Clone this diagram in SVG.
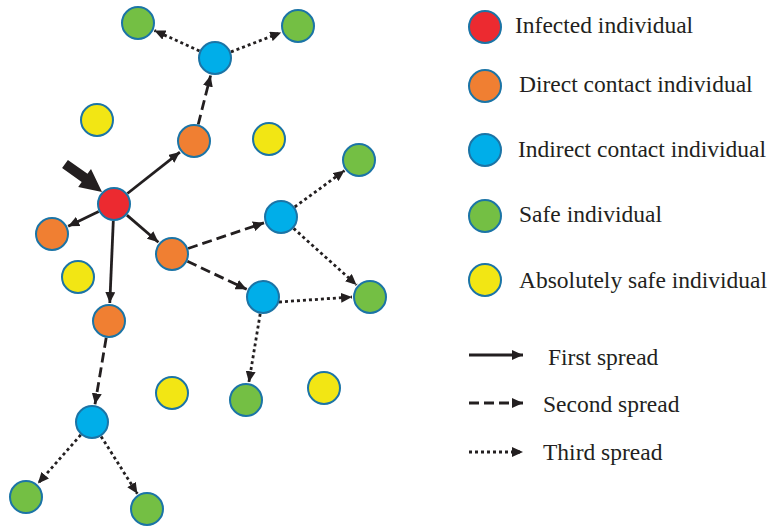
<svg xmlns="http://www.w3.org/2000/svg" width="778" height="526" viewBox="0 0 778 526">
<style>
.n{stroke:#1b74a6;stroke-width:2}
.inf{fill:#ec2a30}.dir{fill:#f07f32}.ind{fill:#00aee9}.safe{fill:#74bf44}.abs{fill:#f2e614}
.e{stroke:#231f20;stroke-width:2.8;fill:none;marker-end:url(#ah)}
.d2{stroke-dasharray:10 5}
.d3{stroke-dasharray:3 3}
text{font-family:"Liberation Serif","Times New Roman",serif;font-size:23.5px;fill:#231f20}
</style>
<defs>
<marker id="ah" markerUnits="userSpaceOnUse" markerWidth="12" markerHeight="10" refX="11" refY="5" orient="auto">
<path d="M0,0 L11,5 L0,10 Z" fill="#231f20"/>
</marker>
</defs>
<rect width="778" height="526" fill="#fff"/>
<g id="connectors">
<line class="e" x1="127.4" y1="193.5" x2="179.9" y2="152.1"/>
<line class="e" x1="98.7" y1="211.4" x2="68.2" y2="226.2"/>
<line class="e" x1="126.9" y1="215.1" x2="158.4" y2="242.2"/>
<line class="e" x1="113.3" y1="221" x2="109.8" y2="303"/>
<line class="e d2" x1="198.2" y1="124.5" x2="210.6" y2="75.5"/>
<line class="e d2" x1="188.1" y1="248.5" x2="264" y2="222.8"/>
<line class="e d2" x1="187.4" y1="261.3" x2="246.7" y2="289.3"/>
<line class="e d2" x1="106.2" y1="337.8" x2="95" y2="404.3"/>
<line class="e d3" x1="199.5" y1="51" x2="154.4" y2="30.5"/>
<line class="e d3" x1="230.9" y1="51.9" x2="281.2" y2="32.5"/>
<line class="e d3" x1="294.7" y1="207" x2="344.5" y2="170.6"/>
<line class="e d3" x1="293.6" y1="228.4" x2="356.6" y2="285"/>
<line class="e d3" x1="279" y1="302" x2="352" y2="297"/>
<line class="e d3" x1="260.2" y1="313.8" x2="248.9" y2="382.2"/>
<line class="e d3" x1="80.8" y1="434.8" x2="37.9" y2="483.5"/>
<line class="e d3" x1="101.1" y1="436.4" x2="137.4" y2="493.8"/>
<polygon points="67.9,159.9 87.5,173.8 91,168.9 102,192 78.2,186.9 81.7,182 62.1,168.1" fill="#231f20"/>
</g>
<g id="infected"><circle class="n inf" cx="114" cy="204" r="16"/></g>
<g id="direct1"><circle class="n dir" cx="194" cy="141" r="16"/></g>
<g id="direct2"><circle class="n dir" cx="52" cy="234" r="16"/></g>
<g id="direct3"><circle class="n dir" cx="172" cy="254" r="16"/></g>
<g id="direct4"><circle class="n dir" cx="109" cy="321" r="16"/></g>
<g id="indirect1"><circle class="n ind" cx="215" cy="58" r="16"/></g>
<g id="indirect2"><circle class="n ind" cx="281" cy="217" r="16"/></g>
<g id="indirect3"><circle class="n ind" cx="263" cy="297" r="16"/></g>
<g id="indirect4"><circle class="n ind" cx="92" cy="422" r="16"/></g>
<g id="safe1"><circle class="n safe" cx="138" cy="23" r="16"/></g>
<g id="safe2"><circle class="n safe" cx="298" cy="26" r="16"/></g>
<g id="safe3"><circle class="n safe" cx="359" cy="160" r="16"/></g>
<g id="safe4"><circle class="n safe" cx="370" cy="297" r="16"/></g>
<g id="safe5"><circle class="n safe" cx="246" cy="400" r="16"/></g>
<g id="safe6"><circle class="n safe" cx="26" cy="497" r="16"/></g>
<g id="safe7"><circle class="n safe" cx="147" cy="509" r="16"/></g>
<g id="abs1"><circle class="n abs" cx="97" cy="120" r="16"/></g>
<g id="abs2"><circle class="n abs" cx="269" cy="139" r="16"/></g>
<g id="abs3"><circle class="n abs" cx="78" cy="277" r="16"/></g>
<g id="abs4"><circle class="n abs" cx="172" cy="393" r="16"/></g>
<g id="abs5"><circle class="n abs" cx="324" cy="388" r="16"/></g>
<g id="legend">
<circle class="n inf" cx="485" cy="27" r="16"/><text x="515" y="33">Infected individual</text>
<circle class="n dir" cx="485" cy="86" r="16"/><text x="519" y="92">Direct contact individual</text>
<circle class="n ind" cx="485" cy="150" r="16"/><text x="518" y="157">Indirect contact individual</text>
<circle class="n safe" cx="485" cy="216" r="16"/><text x="519" y="222">Safe individual</text>
<circle class="n abs" cx="485" cy="280" r="16"/><text x="519" y="288">Absolutely safe individual</text>
<line class="e" x1="469" y1="355" x2="523" y2="355"/><text x="548" y="365">First spread</text>
<line class="e d2" x1="469" y1="403" x2="523" y2="403"/><text x="543" y="412">Second spread</text>
<line class="e d3" x1="469" y1="452" x2="523" y2="452"/><text x="543" y="460">Third spread</text>
</g>
</svg>
